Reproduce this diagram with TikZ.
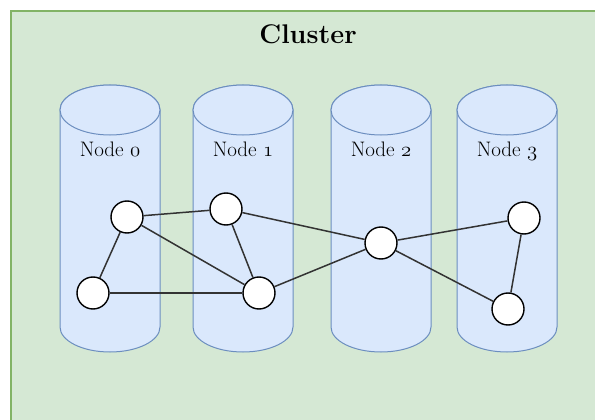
\documentclass[tikz,border=0pt]{standalone}
\usepackage{tikz}

\definecolor{clusterfill}{HTML}{D5E8D4}
\definecolor{clusterline}{HTML}{82B366}
\definecolor{cylfill}{HTML}{DAE8FC}
\definecolor{cylline}{HTML}{6C8EBF}

\begin{document}
\begin{tikzpicture}[x=1pt, y=-1pt,
    vtx/.style={circle, draw=black, fill=white, line width=1.4pt, minimum size=32pt, inner sep=0pt},
    link/.style={line width=1.5pt, draw=black!80},
    cyl/.style={fill=cylfill, draw=cylline, line width=1pt},
    lbl/.style={anchor=base, font=\fontsize{21}{25}\selectfont, text=black}]
    \useasboundingbox (0,0) rectangle (595,420);

    % cluster background
    \fill[clusterfill] (11,11) rectangle (610,440);
    \draw[clusterline, line width=1.3pt] (11,440) -- (11,11) -- (610,11);
    \node[anchor=base, font=\bfseries\fontsize{27}{32}\selectfont] (title) at (308,44) {Cluster};

    % storage cylinders
    \foreach \cx in {110, 243, 381, 507} {
        \draw[cyl] (\cx-50,110) -- (\cx-50,327)
            arc[start angle=180, end angle=360, x radius=50pt, y radius=25pt]
            -- (\cx+50,110)
            arc[start angle=0, end angle=180, x radius=50pt, y radius=25pt] -- cycle;
        \draw[cyl] (\cx,110) ellipse[x radius=50pt, y radius=25pt];
    }

    \node[lbl] (lbl0) at (110,156) {Node $\mathnormal{0}$};
    \node[lbl] (lbl1) at (243,156) {Node $\mathnormal{1}$};
    \node[lbl] (lbl2) at (381,156) {Node $\mathnormal{2}$};
    \node[lbl] (lbl3) at (507,156) {Node $\mathnormal{3}$};

    % vertices
    \node[vtx] (a) at (127,217) {};
    \node[vtx] (b) at (93,293) {};
    \node[vtx] (c) at (226,209) {};
    \node[vtx] (d) at (259,293) {};
    \node[vtx] (e) at (381,243) {};
    \node[vtx] (f) at (524,218) {};
    \node[vtx] (g) at (508,309) {};

    % edges
    \foreach \p/\q in {a/c, a/b, a/d, b/d, c/d, c/e, d/e, e/f, e/g, f/g} {
        \draw[link] (\p) -- (\q);
    }
\end{tikzpicture}
\end{document}
